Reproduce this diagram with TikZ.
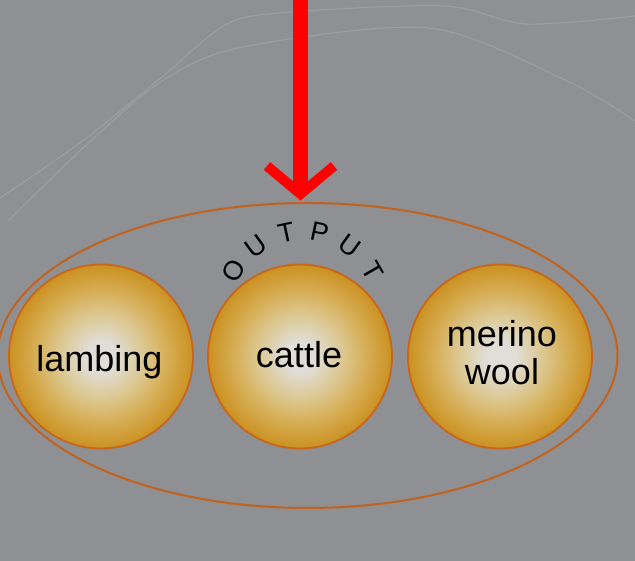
\documentclass[tikz,border=0pt]{standalone}
\usepackage{fontspec}
\setmainfont{Liberation Sans}
\usetikzlibrary{shapes.geometric}
\definecolor{bg}{HTML}{8E9093}
\definecolor{ballin}{HTML}{E0DED8}
\definecolor{ballmid}{HTML}{DCC68C}
\definecolor{ballgold}{HTML}{D6AE55}
\definecolor{ballout}{HTML}{CB9121}
\definecolor{ballrim}{HTML}{C8661A}
\definecolor{ringcol}{HTML}{C2621C}
\definecolor{arrowred}{HTML}{FF0000}
\pgfdeclareradialshading{goldball}{\pgfpoint{0bp}{0bp}}{color(0bp)=(ballin); color(4bp)=(ballin); color(12bp)=(ballmid); color(18bp)=(ballgold); color(25bp)=(ballout); color(50bp)=(ballout)}
\begin{document}
\begin{tikzpicture}[x=1pt,y=1pt,
  ball/.style={circle, draw=ballrim, line width=1.8pt, shade, shading=goldball, minimum size=184pt, inner sep=0pt},
  lbl/.style={font=\fontsize{36}{38}\selectfont, align=center, text=black, inner sep=0pt},
  ring/.style={ellipse, draw=ringcol, line width=2pt, minimum width=620pt, minimum height=305pt, inner sep=0pt},
  shaft/.style={draw=arrowred, line width=15pt},
  chevron/.style={draw=arrowred, line width=10pt, miter limit=10},
  outl/.style={font=\fontsize{27}{27}\selectfont, inner sep=0pt, text=black},
  texture/.style={draw=white, opacity=0.12, line width=1.2pt}]
\fill[bg] (0,0) rectangle (635,561);
\useasboundingbox (0,0) rectangle (635,561);
% faint background texture
\draw[texture] plot[smooth] coordinates {(0,363) (81,419) (162,484) (227,537) (291,549) (445,555) (526,537) (635,545)};
\draw[texture] plot[smooth] coordinates {(8,340) (81,411) (162,480) (243,514) (429,533) (567,480) (635,440)};
% outer ellipse
\node[ring] (outer) at (307.5,205.5) {};
% balls
\node[ball] (lambing) at (101,204.5) {};
\node[ball] (cattle) at (300,204.5) {};
\node[ball] (merino) at (500,204.5) {};
\node[lbl, anchor=base] (tl) at ([xshift=-1.5pt,yshift=-15.5pt]lambing.center) {lambing};
\node[lbl, anchor=base] (tc) at ([xshift=-1pt,yshift=-11.5pt]cattle.center) {cattle};
\node[lbl] (tm) at ([xshift=2pt,yshift=3.4pt]merino.center) {merino\\wool};
% OUTPUT arc text
\coordinate (oc) at (303,250);
\foreach \ch [count=\i] in {O,U,T,P,U,T} {
  \pgfmathsetmacro{\ang}{150-24*(\i-1)}
  \node[outl, rotate=\ang-90] (o\i) at ([shift={(\ang:80)}]oc) {\ch};
}
% arrow
\coordinate (top) at (300.5,561);
\coordinate (tip) at (300.5,367);
\draw[shaft] (top) -- (tip);
\draw[chevron] ([shift={(-33.5,28)}]tip) -- (tip) -- ([shift={(33.5,28)}]tip);
\end{tikzpicture}
\end{document}
